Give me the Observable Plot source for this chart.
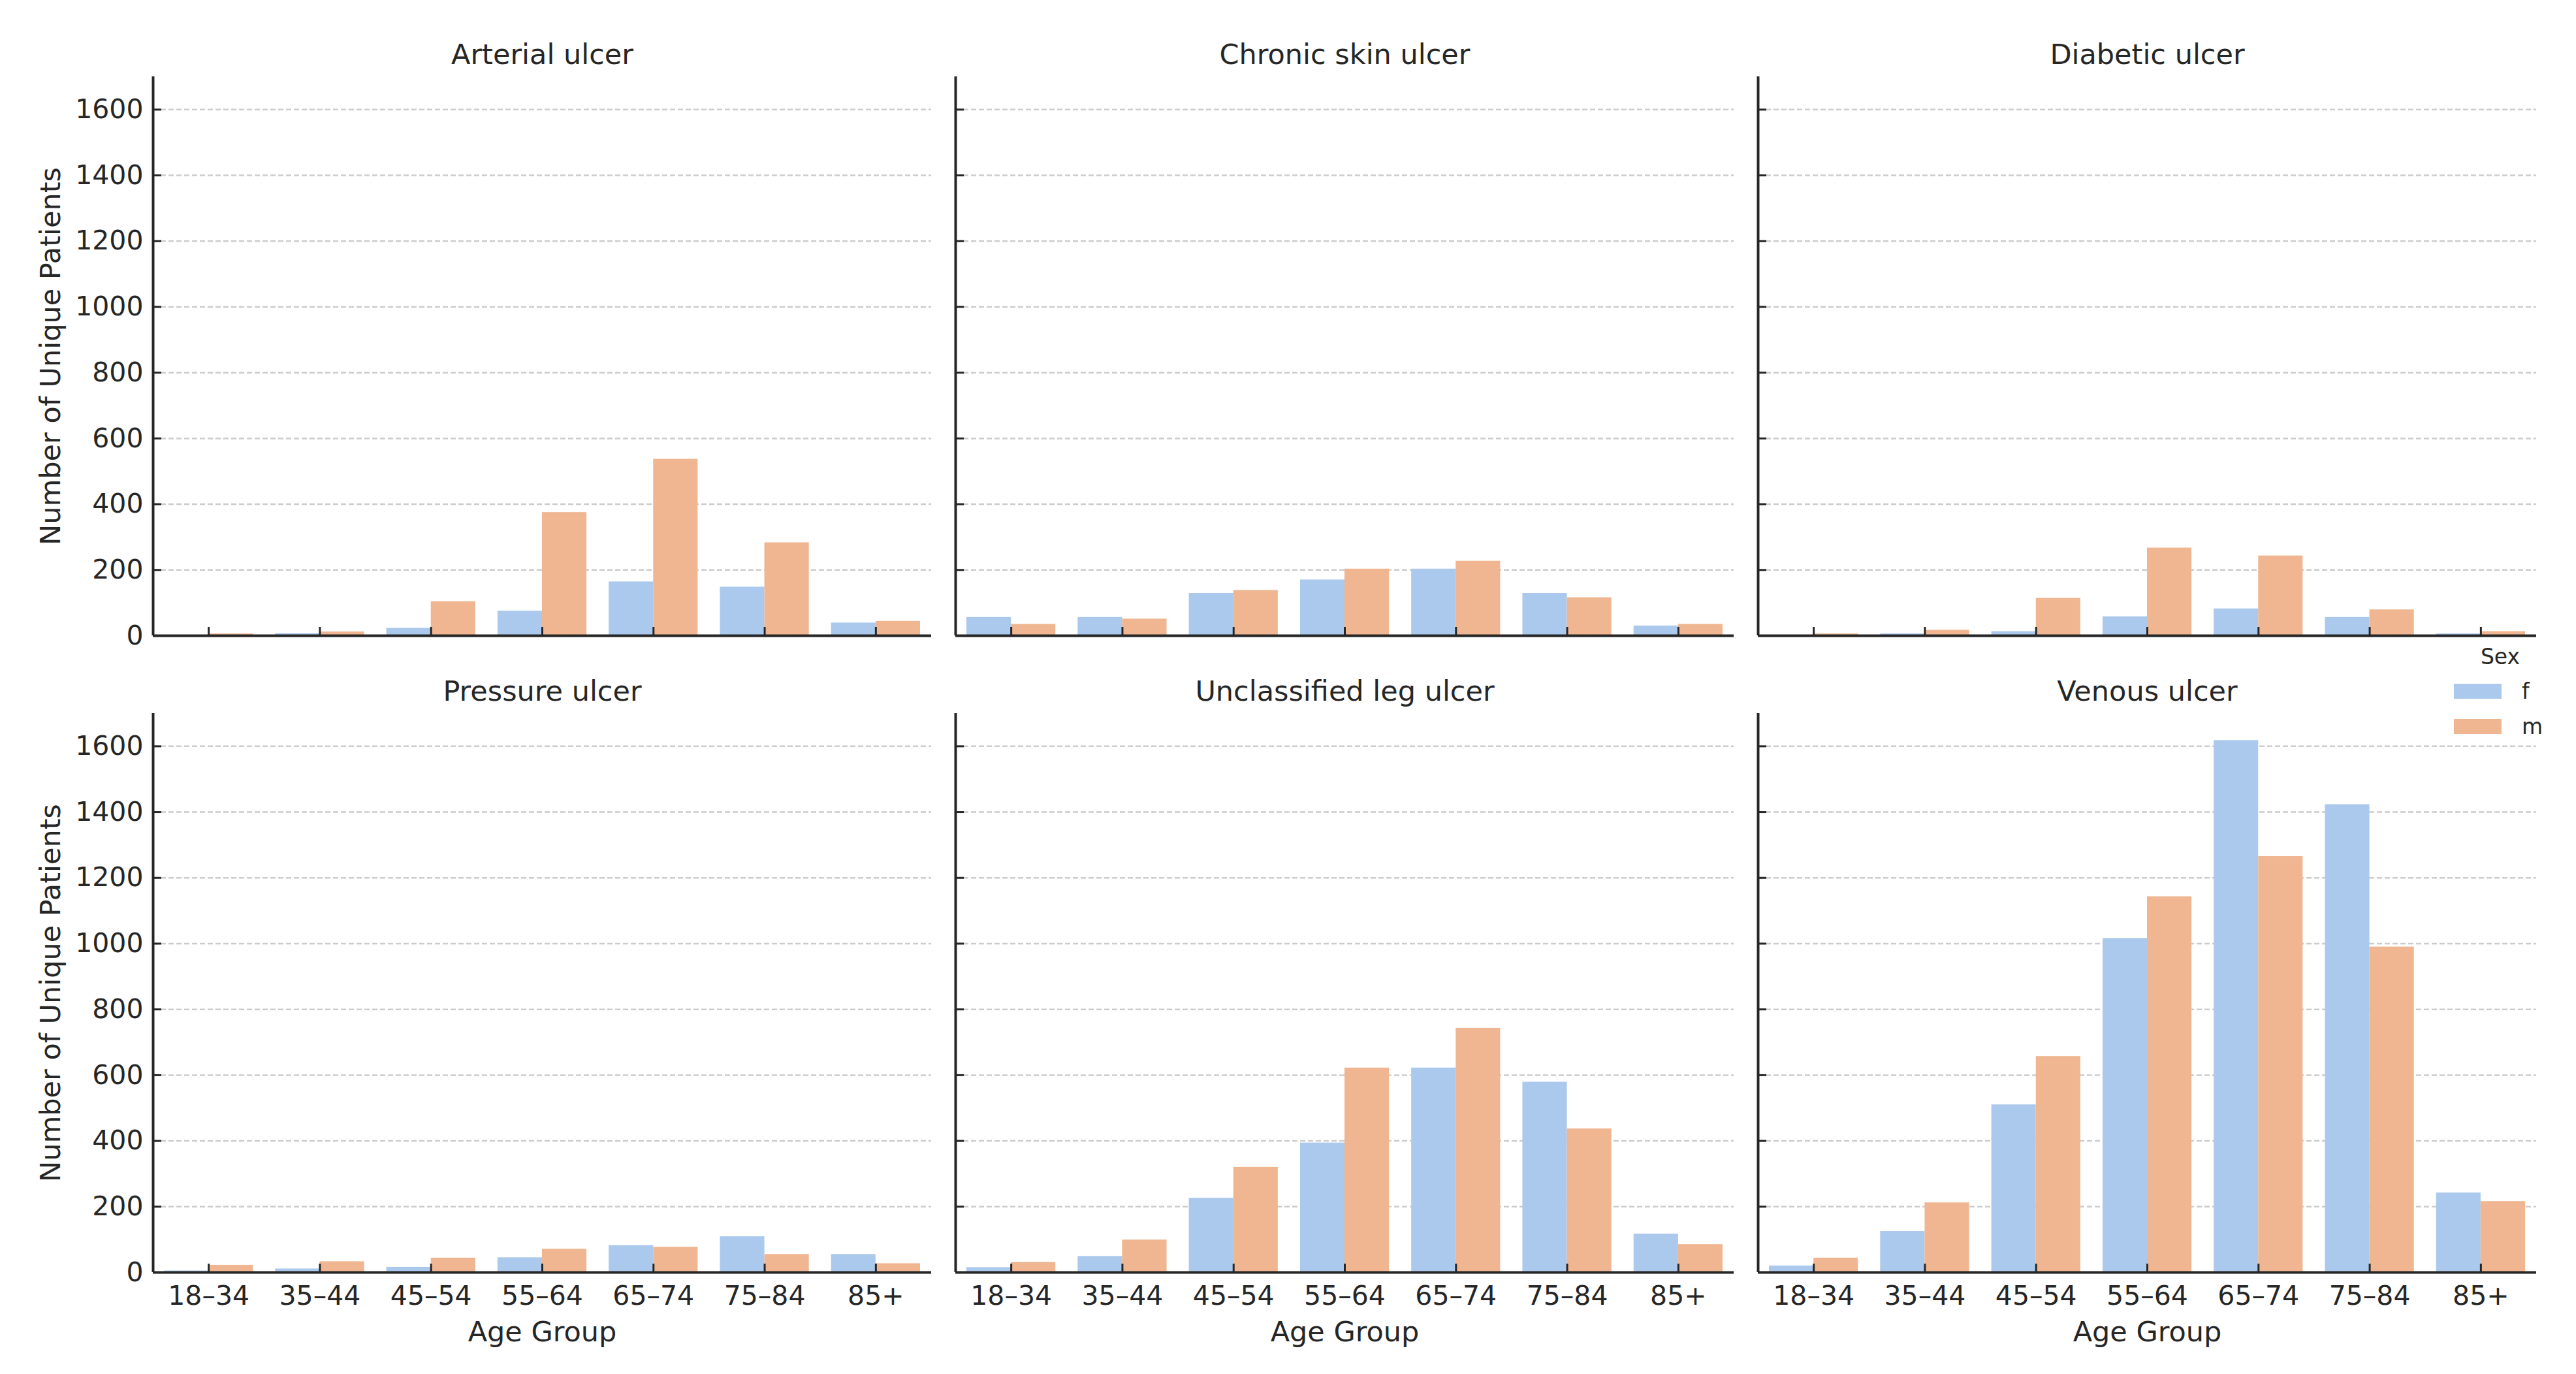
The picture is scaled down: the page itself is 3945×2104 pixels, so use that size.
<!DOCTYPE html>
<html>
<head>
<meta charset="utf-8">
<script src="https://cdn.jsdelivr.net/npm/d3@7"></script>
<script src="https://cdn.jsdelivr.net/npm/@observablehq/plot@0.6"></script>
<style>
html, body { margin: 0; padding: 0; background: #fff; }
#wrap { position: relative; width: 3945px; height: 2104px; font-family: "DejaVu Sans", sans-serif; color: #262626; }
#chart { position: absolute; left: 0; top: 0; }
#legendTitle { position: absolute; left: 3758px; width: 142px; top: 989px; text-align: center; font-size: 33px; line-height: 33px; }
#legend { position: absolute; left: 3758px; top: 1047px; width: 160px; }
#legend .lg-swatches { margin: 0 !important; font-size: 33px !important; font-family: "DejaVu Sans", sans-serif !important; width: 160px; }
#legend .lg-swatch { padding-bottom: 0 !important; margin: 0 0 31px 0 !important; line-height: 23px !important; height: 23px; display: flex; align-items: center; width: 160px; }
#legend .lg-swatch svg { margin-right: 31px !important; }
#legend .lg-swatch-label, #legend .lg-swatch span { overflow: visible !important; text-overflow: clip !important; }
</style>
</head>
<body>
<div id="wrap">
  <div id="chart"></div>
  <div id="legendTitle">Sex</div>
  <div id="legend"></div>
</div>
<script>
// ---- data ----
const ageGroups = ["18–34", "35–44", "45–54", "55–64", "65–74", "75–84", "85+"];
const ulcerTypes = ["Arterial ulcer", "Chronic skin ulcer", "Diabetic ulcer", "Pressure ulcer", "Unclassified leg ulcer", "Venous ulcer"];
const sexes = ["f", "m"];
const sexColors = ["#abc9ec", "#efb691"];

const arterialF = [1, 7, 23, 75, 164, 148, 39];
const arterialM = [6, 12, 104, 375, 537, 283, 44];
const chronicF = [56, 56, 129, 170, 203, 129, 30];
const chronicM = [35, 51, 138, 203, 227, 116, 35];
const diabeticF = [1, 6, 13, 58, 82, 56, 6];
const diabeticM = [6, 17, 114, 267, 243, 79, 13];
const pressureF = [5, 11, 16, 45, 82, 109, 55];
const pressureM = [22, 33, 44, 71, 77, 55, 27];
const unclassifiedF = [15, 49, 226, 394, 622, 579, 117];
const unclassifiedM = [31, 99, 320, 622, 743, 437, 85];
const venousF = [20, 125, 510, 1016, 1618, 1423, 242];
const venousM = [44, 212, 657, 1143, 1265, 990, 216];

const yTickValues = [0, 200, 400, 600, 800, 1000, 1200, 1400, 1600];
const gridValues = [200, 400, 600, 800, 1000, 1200, 1400, 1600];
const yLabel = "Number of Unique Patients";
const xLabel = "Age Group";

// ---- table built from arrays ----
const seriesBySex = [
  [arterialF, arterialM], [chronicF, chronicM], [diabeticF, diabeticM],
  [pressureF, pressureM], [unclassifiedF, unclassifiedM], [venousF, venousM]
];
const panels = ulcerTypes.map((type, k) => ({type, col: k % 3, row: Math.floor(k / 3)}));
const bars = panels.flatMap((p, k) =>
  ageGroups.flatMap((age, i) =>
    sexes.map((sex, j) => ({type: p.type, col: p.col, row: p.row, i, age, sex, j, value: seriesBySex[k][j][i]}))
  )
);
const yTickRows = [0, 1].flatMap(row => yTickValues.map(v => ({row, v})));
const xTickRows = [0, 1, 2].flatMap(col => ageGroups.map((label, i) => ({col, i, label})));
const ageIndex = ageGroups.map((_, i) => i);

// ---- layout ----
const W = 3945, H = 2104;
const mL = 234, mR = 61, mT = 117, mB = 156;
const panelW = 1192, panelH = 856;
const innerW = W - mL - mR, innerH = H - mT - mB;
const padX = (innerW - 3 * panelW) / (innerW - panelW);
const padY = (innerH - 2 * panelH) / (innerH - panelH);
const ink = "#262626";
const tickLen = 13;

const chart = Plot.plot({
  width: W,
  height: H,
  marginLeft: mL,
  marginRight: mR,
  marginTop: mT,
  marginBottom: mB,
  style: {fontFamily: "'DejaVu Sans', sans-serif", fontSize: "41px", color: ink, background: "white", overflow: "visible"},
  x: {domain: [-0.5, ageGroups.length - 0.5], axis: null},
  y: {domain: [0, 1700], axis: null},
  fx: {domain: [0, 1, 2], axis: null, paddingInner: padX, paddingOuter: 0, round: false},
  fy: {domain: [0, 1], axis: null, paddingInner: padY, paddingOuter: 0, round: false},
  color: {domain: sexes, range: sexColors},
  marks: [
    Plot.ruleY(gridValues, {stroke: "#cccccc", strokeWidth: 2.5, strokeDasharray: "8,4"}),
    Plot.rectY(bars, {
      fx: "col", fy: "row",
      x1: d => d.i - 0.4 + d.j * 0.4,
      x2: d => d.i + d.j * 0.4,
      y1: 0, y2: "value",
      fill: "sex"
    }),
    Plot.ruleX([-0.5], {stroke: ink, strokeWidth: 4}),
    Plot.ruleY([0], {stroke: ink, strokeWidth: 4}),
    Plot.tickY(yTickValues, {y: d => d, stroke: ink, strokeWidth: 3, insetRight: panelW - tickLen}),
    Plot.tickX(ageIndex, {x: d => d, stroke: ink, strokeWidth: 3, insetTop: panelH - tickLen}),
    Plot.text(yTickRows, {
      fx: () => 0, fy: "row", y: "v", text: d => String(d.v),
      frameAnchor: "left", textAnchor: "end", lineAnchor: "middle", dx: -15, fill: ink
    }),
    Plot.text(xTickRows, {
      fx: "col", fy: () => 1, x: "i", text: "label",
      frameAnchor: "bottom", lineAnchor: "bottom", dy: 49, fill: ink
    }),
    Plot.text([0, 1, 2], {
      fx: d => d, fy: () => 1, text: () => xLabel,
      frameAnchor: "bottom", lineAnchor: "bottom", dy: 105, fontSize: 43, fill: ink
    }),
    Plot.text([0, 1], {
      fx: () => 0, fy: d => d, text: () => yLabel,
      frameAnchor: "left", textAnchor: "middle", rotate: -90, lineAnchor: "bottom", dx: -143, fontSize: 43, fill: ink
    }),
    Plot.text(panels, {
      fx: "col", fy: "row", text: "type",
      frameAnchor: "top", lineAnchor: "bottom", dy: -20, fontSize: 43, fill: ink
    })
  ]
});
document.getElementById("chart").appendChild(chart);

const legend = Plot.legend({
  color: {domain: sexes, range: sexColors},
  legend: "swatches",
  columns: 1,
  swatchWidth: 73,
  swatchHeight: 23,
  className: "lg",
  style: {fontFamily: "'DejaVu Sans', sans-serif", fontSize: "33px", color: ink}
});
document.getElementById("legend").appendChild(legend);
</script>
</body>
</html>
